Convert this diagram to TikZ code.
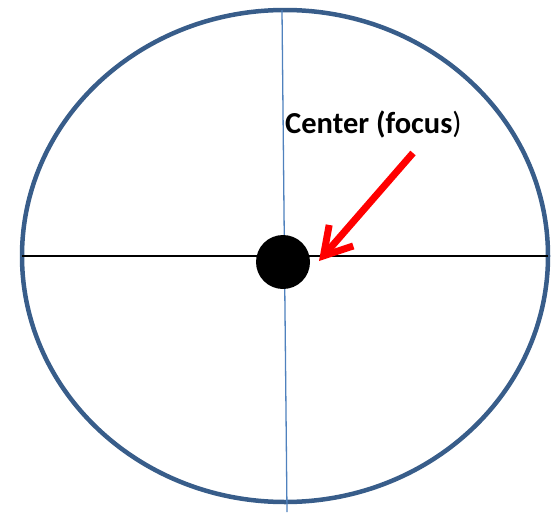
\documentclass[tikz,border=0pt]{standalone}
\usepackage{fontspec}
\setmainfont{Carlito}
\usetikzlibrary{arrows.meta,shapes.geometric}
\definecolor{ringblue}{HTML}{385D8A}
\definecolor{axisblue}{HTML}{4F81BD}
\tikzset{
  ring/.style={draw=ringblue, line width=4.5pt, ellipse, inner sep=0pt, outer sep=0pt, minimum width=526pt, minimum height=492pt},
  haxis/.style={draw=black, line width=1.6pt},
  vaxis/.style={draw=axisblue, line width=1.3pt},
  pointer/.style={draw=red, line width=7pt, -{Straight Barb[length=27pt,width=32pt]}},
  lbl/.style={font=\fontsize{30.5}{34}\selectfont, inner sep=0pt, anchor=base west}
}
\begin{document}
\begin{tikzpicture}[x=1pt,y=-1pt]
\useasboundingbox (0,0) rectangle (557,514);
\node[ring] (e) at (285,256) {};
\coordinate (vb) at (287,512);
\draw[haxis] (e.west) -- (e.east);
\draw[vaxis] (e.north) ++(-3pt,0) coordinate (vt) -- (vb);
\node[circle, fill=black, minimum size=54pt, inner sep=0pt] (dot) at (283,262) {};
\node[lbl] (t) at (285,133) {\textbf{Center (focus})};
\coordinate (tail) at (413,153);
\coordinate (tip) at (319,261);
\draw[pointer] (tail) -- (tip);
\end{tikzpicture}
\end{document}
